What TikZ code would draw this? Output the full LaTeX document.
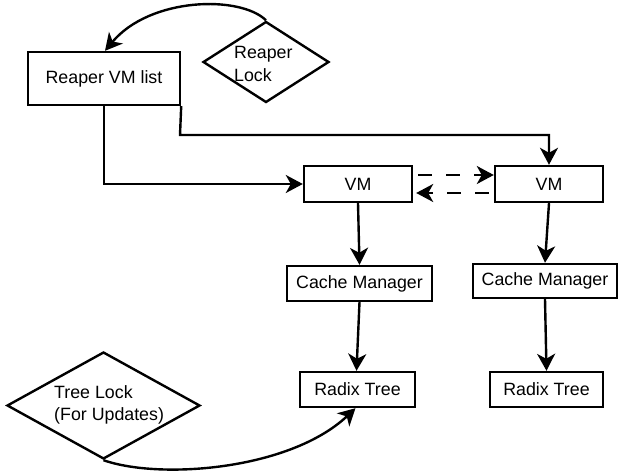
\documentclass[tikz,border=0pt]{standalone}
\usepackage{fontspec}
\setmainfont{Liberation Sans}
\usetikzlibrary{arrows.meta,shapes.geometric}
\begin{document}
\begin{tikzpicture}[x=1pt,y=-1pt,
  box/.style={draw,line width=2.4pt,rectangle,inner sep=0pt,font=\fontsize{17.8}{22}\selectfont},
  dia/.style={draw,line width=2.4pt,diamond,inner sep=0pt},
  lbl/.style={align=left,anchor=west,inner sep=0pt,font=\fontsize{17.8}{22.5}\selectfont},
  conn/.style={line width=2.4pt,-{Stealth[length=17pt,width=18pt,inset=5pt]}},
  dconn/.style={conn,dash pattern=on 14pt off 14pt},
  ]
\useasboundingbox (0,0) rectangle (618,473);
% nodes
\node[box,minimum width=152pt,minimum height=53pt] (rlist) at (104,78.5) {Reaper VM list};
\node[dia,minimum width=126pt,minimum height=81pt] (rlock) at (266,62) {};
\node[lbl] (rlocktxt) at (234,64) {Reaper\\Lock};
\node[box,minimum width=108pt,minimum height=36pt] (vm1) at (358,184) {VM};
\node[box,minimum width=108pt,minimum height=36pt] (vm2) at (549,184) {VM};
\node[box,minimum width=145pt,minimum height=35pt] (cm1) at (359.5,283.5) {Cache Manager};
\node[box,minimum width=144pt,minimum height=34pt] (cm2) at (545,281) {Cache Manager};
\node[box,minimum width=115pt,minimum height=35pt] (rt1) at (357.5,389.5) {Radix Tree};
\node[box,minimum width=113pt,minimum height=35pt] (rt2) at (546.5,389.5) {Radix Tree};
\node[dia,minimum width=193pt,minimum height=107pt] (tlock) at (103.5,405.5) {};
\node[lbl] (tlocktxt) at (54,405) {Tree Lock\\(For Updates)};
\coordinate (j) at (180,135);
% connectors
\draw[conn] (rlock.north) .. controls (240,-5) and (150,-3) .. ([xshift=1pt]rlist.north);
\draw[conn] (rlist.south) |- (vm1.west);
\draw[conn] (rlist.south east) -- (j) -| (vm2.north);
\draw[dconn] ([xshift=5pt,yshift=9pt]vm1.east) -- ([yshift=9pt]vm2.west);
\draw[dconn] ([xshift=-5pt,yshift=-9pt]vm2.west) -- ([xshift=3pt,yshift=-9pt]vm1.east);
\draw[conn] (vm1.south) -- (cm1.north);
\draw[conn] (vm2.south) -- (cm2.north);
\draw[conn] (cm1.south) -- ([xshift=-1pt]rt1.north);
\draw[conn] (cm2.south) -- (rt2.north);
\draw[conn] (tlock.south) .. controls (160,480) and (290,470) .. ([xshift=-2pt]rt1.south);
\end{tikzpicture}
\end{document}
